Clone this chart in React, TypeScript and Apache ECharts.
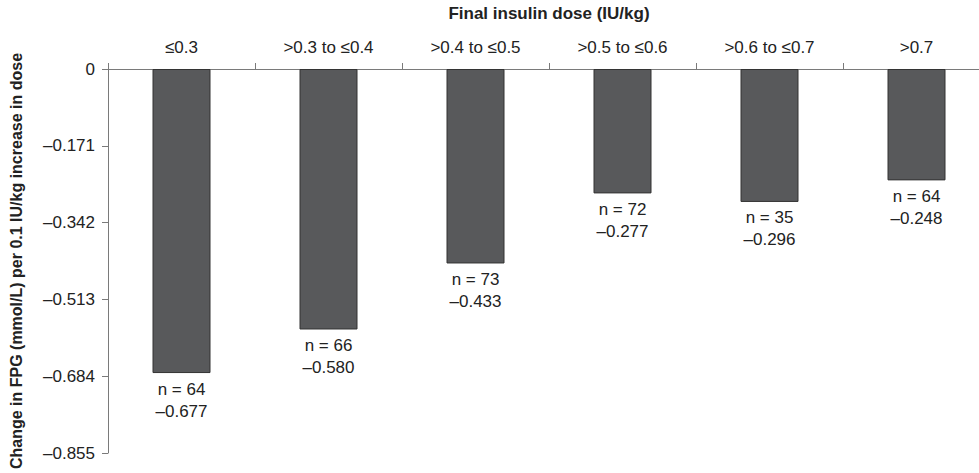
import React, { useEffect, useRef } from "react";
import * as echarts from "echarts";

// Final insulin dose bands (IU/kg)
const doseBands = ["≤0.3", ">0.3 to ≤0.4", ">0.4 to ≤0.5", ">0.5 to ≤0.6", ">0.6 to ≤0.7", ">0.7"];
// Change in FPG (mmol/L) per 0.1 IU/kg increase in dose
const fpgChange = [-0.677, -0.58, -0.433, -0.277, -0.296, -0.248];
// Patients per band
const patientCounts = [64, 66, 73, 72, 35, 64];

const Y_MIN = -0.855;
const Y_STEP = 0.171;

const FONT = "Liberation Sans, Arial, Helvetica, sans-serif";

function fmt(v: number): string {
  if (Math.abs(v) < 1e-9) return "0";
  return (v < 0 ? "\u2013" : "") + Math.abs(v).toFixed(3);
}

export default function App() {
  const ref = useRef<HTMLDivElement>(null);

  useEffect(() => {
    if (!ref.current) return;
    const chart = echarts.init(ref.current, undefined, { renderer: "svg" });
    chart.setOption({
      animation: false,
      backgroundColor: "#ffffff",
      textStyle: { fontFamily: FONT },
      // the plot runs slightly past the right edge, so keep the grid exactly where it is put
      grid: { left: 108, top: 69, width: 882, height: 384, containLabel: false, outerBoundsMode: "none" },
      xAxis: {
        type: "category",
        position: "top",
        data: doseBands,
        name: "Final insulin dose (IU/kg)",
        nameLocation: "middle",
        nameGap: 47,
        nameTextStyle: { fontFamily: FONT, fontSize: 17, fontWeight: "bold", color: "#222" },
        axisLine: { lineStyle: { color: "#7a7a7a", width: 1 } },
        axisTick: { show: true, length: 6, alignWithLabel: false, lineStyle: { color: "#7a7a7a" } },
        axisLabel: { fontFamily: FONT, fontSize: 17, color: "#222", margin: 13 },
        splitLine: { show: false },
      },
      yAxis: {
        type: "value",
        min: Y_MIN,
        max: 0,
        interval: Y_STEP,
        name: "Change in FPG (mmol/L) per 0.1 IU/kg increase in dose",
        nameLocation: "middle",
        nameGap: 84,
        nameTextStyle: { fontFamily: FONT, fontSize: 16, fontWeight: "bold", color: "#222" },
        axisLine: { show: true, lineStyle: { color: "#7a7a7a", width: 1 } },
        axisTick: { show: true, length: 6, lineStyle: { color: "#7a7a7a" } },
        axisLabel: {
          fontFamily: FONT,
          fontSize: 17,
          color: "#222",
          margin: 13,
          formatter: (v: number) => fmt(v),
        },
        splitLine: { show: false },
      },
      series: [
        {
          type: "bar",
          data: fpgChange.map((v, i) => ({ value: v, n: patientCounts[i] })),
          barWidth: 58,
          itemStyle: { color: "#58595b", borderColor: "#333333", borderWidth: 1 },
          label: {
            show: true,
            position: "bottom",
            distance: 5,
            fontFamily: FONT,
            fontSize: 17,
            lineHeight: 22,
            color: "#222",
            formatter: (p: any) => `n = ${patientCounts[p.dataIndex]}\n${fmt(p.value)}`,
          },
        },
      ],
    });
    return () => chart.dispose();
  }, []);

  return (
    <div style={{ position: "fixed", left: 0, top: 0, width: 979, height: 473, overflow: "hidden", background: "#fff" }}>
      <div ref={ref} style={{ width: 979, height: 473, overflow: "hidden" }} />
    </div>
  );
}
